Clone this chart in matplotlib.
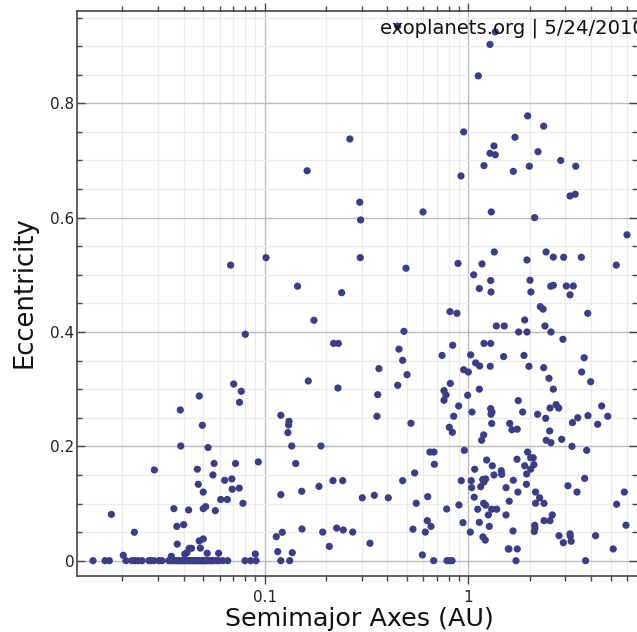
import numpy as np
import matplotlib
matplotlib.use("Agg")
import matplotlib.pyplot as plt
from matplotlib.ticker import FixedLocator, FuncFormatter

# planets with zero eccentricity (semimajor axis, AU)
zero_ecc_a = [0.01434, 0.01643, 0.01725, 0.02083, 0.0223, 0.0231, 0.0239, 0.0250, 0.0270,
              0.0276, 0.0286, 0.0303, 0.0313, 0.0338, 0.0345, 0.0352, 0.0360, 0.0368, 0.0375,
              0.0380, 0.0388, 0.0395, 0.0402, 0.0410, 0.0418, 0.0425, 0.0432, 0.0440, 0.0448,
              0.0455, 0.0462, 0.0470, 0.0478, 0.0485, 0.0492, 0.0500, 0.0508, 0.0515, 0.0525,
              0.0535, 0.0545, 0.0555, 0.0565, 0.0583, 0.0592, 0.0622, 0.0658, 0.0800, 0.0853,
              0.0907, 0.120, 0.1327, 0.676, 0.786, 0.810, 0.832, 1.715, 3.77]

# the rest: (semimajor axis, eccentricity)
planets = [
    (0.01765, 0.081), (0.0202, 0.0094), (0.0229, 0.0497), (0.0287, 0.1587), (0.0348, 0.0077),
    (0.0358, 0.091), (0.037, 0.060), (0.0372, 0.029), (0.0387, 0.2006), (0.0385, 0.2636),
    (0.040, 0.063), (0.0405, 0.0117), (0.0415, 0.014), (0.0423, 0.0887), (0.0426, 0.0217),
    (0.0437, 0.0217), (0.0467, 0.160), (0.0472, 0.1336), (0.0477, 0.0345), (0.0477, 0.288),
    (0.0483, 0.022), (0.0494, 0.2368), (0.0499, 0.120), (0.0499, 0.091), (0.0499, 0.038),
    (0.0513, 0.0945), (0.0522, 0.013), (0.0527, 0.198), (0.0557, 0.150), (0.0564, 0.170),
    (0.0572, 0.0875), (0.0594, 0.013), (0.0608, 0.107), (0.0636, 0.1406), (0.0655, 0.107),
    (0.068, 0.517), (0.0690, 0.143), (0.0693, 0.125), (0.0704, 0.309), (0.0719, 0.170),
    (0.0750, 0.127), (0.0752, 0.277), (0.0767, 0.2963), (0.0782, 0.1004), (0.0803, 0.396),
    (0.0899, 0.0117), (0.093, 0.1727), (0.1015, 0.530), (0.114, 0.042), (0.1159, 0.0158),
    (0.120, 0.1155), (0.120, 0.2543), (0.122, 0.0497), (0.130, 0.224), (0.131, 0.2374),
    (0.1316, 0.2438), (0.1357, 0.2006), (0.1366, 0.014), (0.142, 0.170), (0.145, 0.480),
    (0.1525, 0.0554), (0.152, 0.1214), (0.1616, 0.682), (0.1637, 0.3143), (0.1746, 0.4205),
    (0.1848, 0.130), (0.189, 0.2006), (0.1927, 0.050), (0.2076, 0.025), (0.2165, 0.140),
    (0.218, 0.380), (0.2257, 0.057), (0.229, 0.302), (0.230, 0.380), (0.2388, 0.4688),
    (0.2416, 0.140), (0.2432, 0.0537), (0.262, 0.7376), (0.2705, 0.050), (0.293, 0.627),
    (0.2947, 0.530), (0.296, 0.596), (0.3015, 0.110), (0.329, 0.0304), (0.3454, 0.1144),
    (0.356, 0.2526), (0.359, 0.2904), (0.364, 0.336), (0.4046, 0.110), (0.45, 0.3068),
    (0.450, 0.935), (0.4567, 0.370), (0.476, 0.3505), (0.476, 0.140), (0.483, 0.4012),
    (0.4943, 0.5115), (0.500, 0.3254), (0.523, 0.2403), (0.535, 0.055), (0.545, 0.1534),
    (0.555, 0.1004), (0.595, 0.010), (0.599, 0.610), (0.615, 0.050), (0.629, 0.070),
    (0.632, 0.112), (0.648, 0.190), (0.656, 0.060), (0.678, 0.190), (0.681, 0.1686),
    (0.743, 0.359), (0.760, 0.2974), (0.760, 0.2806), (0.777, 0.2898), (0.783, 0.0904),
    (0.807, 0.2333), (0.813, 0.4356), (0.816, 0.310), (0.835, 0.2246), (0.838, 0.3768),
    (0.848, 0.2526), (0.880, 0.4327), (0.890, 0.520), (0.897, 0.2706), (0.900, 0.0974),
    (0.921, 0.673), (0.924, 0.140), (0.942, 0.0665), (0.949, 0.750), (0.949, 0.334),
    (0.956, 0.193), (0.993, 0.2893), (1.0, 0.330), (1.023, 0.050), (1.027, 0.360),
    (1.034, 0.140), (1.039, 0.1277), (1.043, 0.260), (1.063, 0.500), (1.07, 0.111),
    (1.075, 0.160), (1.087, 0.346), (1.112, 0.090), (1.12, 0.848), (1.133, 0.300),
    (1.133, 0.476), (1.133, 0.067), (1.137, 0.3405), (1.15, 0.1294), (1.163, 0.2106),
    (1.168, 0.519), (1.177, 0.142), (1.18, 0.0415), (1.19, 0.220), (1.19, 0.1004),
    (1.194, 0.1377), (1.194, 0.380), (1.194, 0.691), (1.212, 0.036), (1.217, 0.143),
    (1.217, 0.097), (1.231, 0.176), (1.254, 0.080), (1.268, 0.060), (1.278, 0.903),
    (1.278, 0.7126), (1.282, 0.340), (1.288, 0.380), (1.288, 0.266), (1.288, 0.490),
    (1.293, 0.256), (1.293, 0.470), (1.297, 0.610), (1.303, 0.240), (1.303, 0.090),
    (1.307, 0.260), (1.312, 0.166), (1.337, 0.150), (1.337, 0.7254), (1.342, 0.540),
    (1.357, 0.925), (1.357, 0.710), (1.373, 0.4105), (1.379, 0.090), (1.452, 0.1574),
    (1.459, 0.151), (1.492, 0.357), (1.502, 0.4105), (1.532, 0.1277), (1.532, 0.080),
    (1.572, 0.0205), (1.584, 0.0205), (1.59, 0.104), (1.597, 0.240), (1.638, 0.229),
    (1.74, 0.230), (1.658, 0.052), (1.664, 0.1406), (1.664, 0.681), (1.695, 0.7406),
    (1.735, 0.1774), (1.74, 0.0205), (1.753, 0.120), (1.759, 0.280), (1.768, 0.400),
    (1.849, 0.260), (1.877, 0.359), (1.892, 0.421), (1.892, 0.166), (1.93, 0.1336),
    (1.935, 0.1517), (1.942, 0.400), (1.942, 0.526), (1.957, 0.190), (1.957, 0.778),
    (1.986, 0.340), (1.994, 0.690), (2.01, 0.4905), (2.024, 0.180), (2.024, 0.160),
    (2.03, 0.470), (2.085, 0.180), (2.10, 0.168), (2.11, 0.051), (2.118, 0.600),
    (2.12, 0.062), (2.125, 0.057), (2.14, 0.120), (2.14, 0.1004), (2.19, 0.256),
    (2.2, 0.7154), (2.24, 0.110), (2.257, 0.4443), (2.33, 0.440), (2.346, 0.3376),
    (2.346, 0.760), (2.354, 0.1004), (2.354, 0.070), (2.38, 0.4105), (2.40, 0.249),
    (2.41, 0.540), (2.414, 0.2106), (2.49, 0.319), (2.51, 0.2269), (2.52, 0.267),
    (2.52, 0.070), (2.54, 0.480), (2.547, 0.400), (2.547, 0.2064), (2.585, 0.080),
    (2.616, 0.300), (2.616, 0.531), (2.616, 0.4817), (2.70, 0.273), (2.78, 0.267),
    (2.79, 0.0437), (2.844, 0.700), (2.875, 0.2123), (2.917, 0.3873), (2.93, 0.0315),
    (2.94, 0.5307), (3.03, 0.4805), (3.088, 0.131), (3.16, 0.465), (3.16, 0.638),
    (3.16, 0.047), (3.17, 0.043), (3.2, 0.034), (3.23, 0.200), (3.25, 0.2415),
    (3.28, 0.4805), (3.35, 0.641), (3.37, 0.690), (3.42, 0.120), (3.45, 0.250),
    (3.59, 0.5307), (3.605, 0.330), (3.71, 0.355), (3.73, 0.144), (3.815, 0.193),
    (3.86, 0.4327), (3.87, 0.2537), (3.99, 0.313), (4.22, 0.0437), (4.32, 0.2386),
    (4.52, 0.2706), (4.84, 0.2526), (5.15, 0.0205), (5.33, 0.517), (5.355, 0.0987),
    (5.84, 0.120), (5.95, 0.062), (6.02, 0.570),
]

x_ticks = [0.1, 1]
y_ticks = [0, 0.2, 0.4, 0.6, 0.8]
credit = "exoplanets.org | 5/24/2010"

a_vals = np.array(zero_ecc_a + [p[0] for p in planets])
e_vals = np.array([0.0] * len(zero_ecc_a) + [p[1] for p in planets])

fig = plt.figure(figsize=(6.37, 6.32), dpi=100)
W, H = 637, 632
ax = fig.add_axes([77 / W, 1 - 576 / H, (W - 77) / W, (576 - 10.7) / H])

ax.set_xscale("log")
ax.set_xlim(0.01197, 6.74)
ax.set_ylim(-0.0268, 0.962)

ax.scatter(a_vals, e_vals, s=27, color="#3b3d85", edgecolors="none", zorder=3)

# grid
ax.xaxis.set_major_locator(FixedLocator(x_ticks))
ax.xaxis.set_minor_locator(FixedLocator([m * d for d in (0.01, 0.1, 1) for m in range(2, 10)]))
ax.yaxis.set_major_locator(FixedLocator(y_ticks))
ax.yaxis.set_minor_locator(FixedLocator(np.arange(0.05, 0.96, 0.05)))
ax.xaxis.set_major_formatter(FuncFormatter(lambda v, p: "%g" % v))
ax.xaxis.set_minor_formatter(FuncFormatter(lambda v, p: ""))
ax.yaxis.set_major_formatter(FuncFormatter(lambda v, p: "%g" % v))
ax.grid(which="major", color="#bcbcbc", lw=1.0, zorder=0)
ax.grid(which="minor", color="#ececec", lw=1.0, zorder=0)
ax.set_axisbelow(True)

ax.tick_params(axis="both", which="both", direction="in", color="#444444",
               top=True, right=True, labelsize=11, labelcolor="#222222")
ax.tick_params(which="major", length=6, width=1)
ax.tick_params(which="minor", length=3.5, width=1)
ax.tick_params(axis="x", which="both", bottom=True, direction="out", pad=4)
ax.tick_params(axis="y", pad=2)

for side in ("left", "bottom", "top"):
    ax.spines[side].set_color("#444444")
    ax.spines[side].set_linewidth(1.2)
ax.spines["right"].set_visible(False)

# axis titles placed directly in figure pixels
fig.text(359 / W, 1 - 626 / H, "Semimajor Axes (AU)", fontsize=18.3,
         ha="center", va="baseline", color="#111111")
fig.text(38 / W, 1 - 292 / H, "Eccentricity", fontsize=18.6, rotation=90,
         ha="right", va="center", color="#111111")

fig.text(380 / W, 1 - 18 / H, credit, fontsize=14.1, ha="left", va="top", color="#111111")

fig.savefig("out.png", dpi=100)
